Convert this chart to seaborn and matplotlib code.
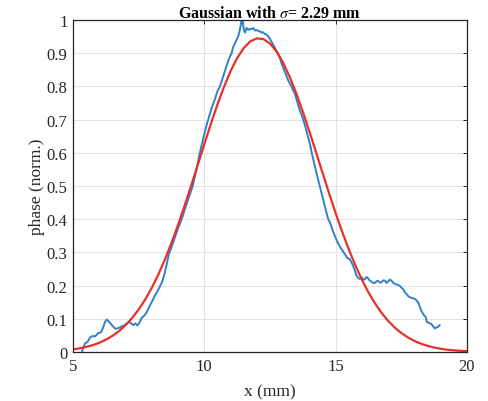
import numpy as np
import pandas as pd
import matplotlib
matplotlib.use("Agg")
import matplotlib.pyplot as plt
import seaborn as sns

x_meas = [5.34, 5.40, 5.46, 5.55, 5.65, 5.75, 5.84, 5.90, 5.96, 6.03, 6.09, 6.15, 6.22, 6.28,
          6.35, 6.41, 6.47, 6.55, 6.62, 6.70, 6.80, 6.92, 7.03, 7.14, 7.22, 7.30, 7.38, 7.45,
          7.52, 7.61, 7.68, 7.74, 7.82, 7.93, 8.03, 8.12, 8.20, 8.30, 8.40, 8.50, 8.58, 8.65,
          8.75, 8.88, 9.00, 9.14, 9.28, 9.42, 9.56, 9.70, 9.83, 9.95, 10.05, 10.15, 10.28, 10.40,
          10.50, 10.60, 10.72, 10.85, 10.95, 11.04, 11.10, 11.20, 11.29, 11.35, 11.42, 11.46,
          11.50, 11.55, 11.61, 11.68, 11.74, 11.80, 11.86, 11.93, 11.99, 12.06, 12.12, 12.18,
          12.24, 12.30, 12.37, 12.44, 12.50, 12.56, 12.62, 12.68, 12.75, 12.82, 12.88, 12.94,
          13.00, 13.10, 13.20, 13.32, 13.40, 13.45, 13.55, 13.65, 13.77, 13.88, 13.98, 14.05,
          14.09, 14.18, 14.28, 14.40, 14.50, 14.60, 14.72, 14.78, 14.88, 14.97, 15.05, 15.16,
          15.25, 15.35, 15.45, 15.54, 15.62, 15.67, 15.74, 15.80, 15.87, 15.93, 16.00, 16.06,
          16.12, 16.18, 16.24, 16.30, 16.37, 16.43, 16.50, 16.56, 16.62, 16.68, 16.75, 16.82,
          16.88, 16.94, 17.00, 17.07, 17.13, 17.20, 17.26, 17.35, 17.45, 17.52, 17.57, 17.64,
          17.70, 17.77, 17.83, 17.92, 18.02, 18.08, 18.14, 18.20, 18.27, 18.35, 18.44, 18.48,
          18.53, 18.60, 18.65, 18.72, 18.78, 18.85, 18.91, 18.97]
y_meas = [0.000, 0.015, 0.026, 0.030, 0.044, 0.048, 0.047, 0.052, 0.057, 0.058, 0.062, 0.075, 0.090, 0.098,
          0.093, 0.088, 0.082, 0.075, 0.070, 0.071, 0.075, 0.079, 0.085, 0.091, 0.086, 0.081, 0.086, 0.080,
          0.087, 0.102, 0.107, 0.112, 0.122, 0.140, 0.155, 0.170, 0.180, 0.196, 0.212, 0.240, 0.268, 0.295,
          0.315, 0.345, 0.372, 0.400, 0.435, 0.468, 0.500, 0.548, 0.600, 0.640, 0.672, 0.700, 0.735, 0.760,
          0.785, 0.800, 0.830, 0.862, 0.885, 0.900, 0.918, 0.935, 0.950, 0.968, 0.998, 1.000,
          0.972, 0.962, 0.976, 0.970, 0.973, 0.972, 0.976, 0.968, 0.970, 0.966, 0.966, 0.962,
          0.963, 0.958, 0.956, 0.950, 0.943, 0.935, 0.926, 0.918, 0.906, 0.897, 0.885, 0.870,
          0.857, 0.838, 0.817, 0.800, 0.785, 0.778, 0.752, 0.725, 0.700, 0.670, 0.640, 0.618,
          0.600, 0.570, 0.537, 0.500, 0.468, 0.436, 0.400, 0.392, 0.368, 0.350, 0.335, 0.318,
          0.307, 0.295, 0.283, 0.280, 0.268, 0.260, 0.244, 0.230, 0.222, 0.220, 0.225, 0.218,
          0.219, 0.226, 0.222, 0.215, 0.212, 0.208, 0.208, 0.213, 0.214, 0.209, 0.210, 0.216,
          0.215, 0.208, 0.212, 0.218, 0.215, 0.208, 0.205, 0.203, 0.199, 0.193, 0.190, 0.180,
          0.175, 0.168, 0.165, 0.162, 0.160, 0.156, 0.150, 0.138, 0.124, 0.113, 0.104, 0.090,
          0.089, 0.086, 0.084, 0.077, 0.071, 0.074, 0.077, 0.081]

# gaussian fit curve, sampled every 0.25 mm
x_fit = [5.00, 5.25, 5.50, 5.75, 6.00, 6.25, 6.50, 6.75, 7.00, 7.25, 7.50, 7.75, 8.00, 8.25,
         8.50, 8.75, 9.00, 9.25, 9.50, 9.75, 10.00, 10.25, 10.50, 10.75, 11.00, 11.25, 11.50,
         11.75, 12.00, 12.25, 12.50, 12.75, 13.00, 13.25, 13.50, 13.75, 14.00, 14.25, 14.50,
         14.75, 15.00, 15.25, 15.50, 15.75, 16.00, 16.25, 16.50, 16.75, 17.00, 17.25, 17.50,
         17.75, 18.00, 18.25, 18.50, 18.75, 19.00, 19.25, 19.50, 19.75, 20.00]
y_fit = [0.0079, 0.0111, 0.0152, 0.0207, 0.0278, 0.0370, 0.0485, 0.0630, 0.0807, 0.1022, 0.1279,
         0.1581, 0.1933, 0.2333, 0.2784, 0.3283, 0.3825, 0.4404, 0.5010, 0.5631, 0.6256, 0.6867,
         0.7449, 0.7983, 0.8456, 0.8849, 0.9151, 0.9353, 0.9444, 0.9424, 0.9292, 0.9054, 0.8717,
         0.8293, 0.7797, 0.7243, 0.6649, 0.6032, 0.5406, 0.4789, 0.4191, 0.3625, 0.3098, 0.2617,
         0.2184, 0.1800, 0.1467, 0.1181, 0.0939, 0.0739, 0.0574, 0.0441, 0.0334, 0.0251, 0.0186,
         0.0136, 0.0098, 0.0070, 0.0050, 0.0035, 0.0024]

x_ticks = [5, 10, 15, 20]
y_ticks = [0, 0.1, 0.2, 0.3, 0.4, 0.5, 0.6, 0.7, 0.8, 0.9, 1]
y_ticklabels = ["0", "0.1", "0.2", "0.3", "0.4", "0.5", "0.6", "0.7", "0.8", "0.9", "1"]

meas = pd.DataFrame({"x": x_meas, "phase": y_meas})
fit = pd.DataFrame({"x": x_fit, "phase": y_fit})

sns.set_theme(style="whitegrid")
plt.rcParams["font.family"] = ["Liberation Serif", "DejaVu Serif"]
plt.rcParams["mathtext.fontset"] = "stix"

fig = plt.figure(figsize=(4.88, 4.02), dpi=100)
ax = fig.add_axes([0.1496, 0.1219, 0.807, 0.826])

sns.lineplot(data=meas, x="x", y="phase", ax=ax, color="#3380c8", linewidth=1.4,
             sort=False, estimator=None)
sns.lineplot(data=fit, x="x", y="phase", ax=ax, color="#e8302a", linewidth=1.6,
             sort=False, estimator=None)

ax.set_xlim(5, 20)
ax.set_ylim(0, 1)
ax.set_xticks(x_ticks)
ax.set_yticks(y_ticks)
ax.set_yticklabels(y_ticklabels)
ax.tick_params(direction="in", length=3, width=0.7, colors="#262626",
               labelsize=12, top=True, right=True, pad=4)
ax.grid(True, color="#e3e3e3", linewidth=0.7)
for s in ax.spines.values():
    s.set_visible(True)
    s.set_color("#262626")
    s.set_linewidth(0.9)

ax.set_xlabel("x (mm)", fontsize=12.5, color="#262626", labelpad=7)
ax.set_ylabel("phase (norm.)", fontsize=12.5, color="#262626", labelpad=1)
ax.set_title(r"Gaussian with $\sigma$= 2.29 mm", fontsize=11.5, fontweight="bold",
             color="black", pad=2)

fig.savefig("out.png", dpi=100)
